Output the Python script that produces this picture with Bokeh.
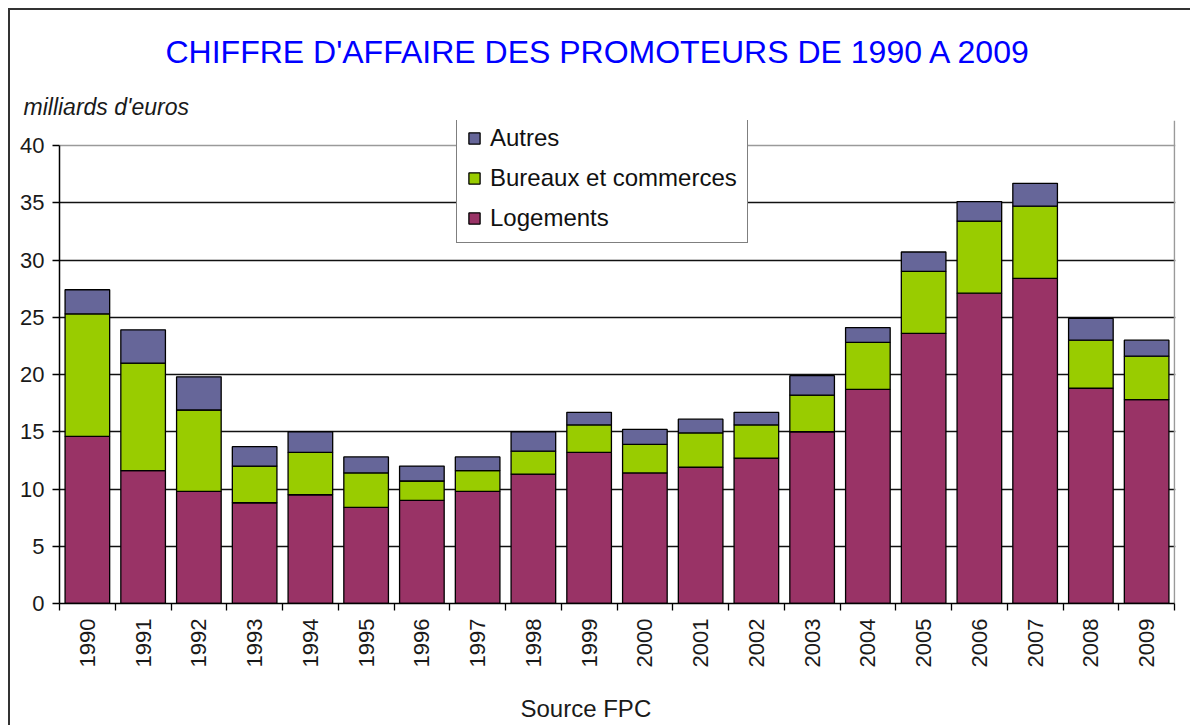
import math
from bokeh.plotting import figure
from bokeh.layouts import column
from bokeh.models import (ColumnDataSource, Range1d, FixedTicker, Legend, LegendItem, Label, Grid, Title)
from bokeh.embed import file_html
from bokeh.resources import INLINE

years = ["1990", "1991", "1992", "1993", "1994", "1995", "1996", "1997", "1998", "1999",
         "2000", "2001", "2002", "2003", "2004", "2005", "2006", "2007", "2008", "2009"]
logements = [14.6, 11.6, 9.8, 8.8, 9.5, 8.4, 9.0, 9.8, 11.3, 13.2,
             11.4, 11.9, 12.7, 15.0, 18.7, 23.6, 27.1, 28.4, 18.8, 17.8]
bureaux = [10.7, 9.4, 7.1, 3.2, 3.7, 3.0, 1.7, 1.8, 2.0, 2.4,
           2.5, 3.0, 2.9, 3.2, 4.1, 5.4, 6.3, 6.3, 4.2, 3.8]
autres = [2.1, 2.9, 2.9, 1.7, 1.8, 1.4, 1.3, 1.2, 1.7, 1.1,
          1.3, 1.2, 1.1, 1.7, 1.3, 1.7, 1.7, 2.0, 1.9, 1.4]
series = ["Logements", "Bureaux et commerces", "Autres"]
colors = ["#993366", "#99CC00", "#666699"]
y_ticks = [0, 5, 10, 15, 20, 25, 30, 35, 40]

title_text = "CHIFFRE D'AFFAIRE DES PROMOTEURS DE 1990 A 2009"
unit_text = "milliards d'euros"
source_text = "Source FPC"

n = len(years)
xpos = [i + 0.5 for i in range(n)]
src = ColumnDataSource(dict(x=xpos, logements=logements, bureaux=bureaux, autres=autres))

W = 1180
FONT = "Liberation Sans"
BL, BR = 49, 15          # left / right borders (frame spans page x 59..1175)

# --- main chart ---
y_top = 40 * (603 - 120) / (603 - 145)   # frame extends above 40 to host the legend
x_end = n * (1116 / 1115)

p = figure(width=W, height=680, output_backend="svg", toolbar_location=None, title=None,
           x_range=Range1d(0, x_end), y_range=Range1d(0, y_top),
           min_border_left=BL, min_border_right=BR, min_border_top=110, min_border_bottom=87)
p.background_fill_color = "white"
p.border_fill_color = "white"
p.outline_line_color = None

rs = p.vbar_stack(["logements", "bureaux", "autres"], x="x", width=0.8, color=colors,
                  line_color="black", line_width=1.3, source=src)

xa = p.xaxis[0]
xa.ticker = FixedTicker(ticks=xpos, minor_ticks=list(range(n + 1)))
xa.major_label_overrides = {x: y for x, y in zip(xpos, years)}
xa.major_label_orientation = math.pi / 2
xa.major_tick_out = 0
xa.major_tick_in = 0
xa.minor_tick_out = 7
xa.minor_tick_in = 0
xa.minor_tick_line_color = "black"
xa.minor_tick_line_width = 1.3
xa.axis_line_color = "black"
xa.axis_line_width = 1.5
xa.bounds = (0, n)
xa.major_label_standoff = 8
xa.major_label_text_font = FONT
xa.major_label_text_font_size = "22px"
xa.major_label_text_color = "#1a1a1a"

ya = p.yaxis[0]
ya.ticker = FixedTicker(ticks=y_ticks)
ya.bounds = (0, 40)
ya.major_tick_out = 7
ya.major_tick_in = 0
ya.minor_tick_out = 0
ya.minor_tick_in = 0
ya.major_tick_line_color = "black"
ya.major_tick_line_width = 1.3
ya.axis_line_color = "black"
ya.axis_line_width = 1.5
ya.major_label_standoff = 8
ya.major_label_text_font = FONT
ya.major_label_text_font_size = "22px"
ya.major_label_text_color = "#1a1a1a"

p.xgrid.visible = False
p.ygrid[0].ticker = FixedTicker(ticks=y_ticks[1:-1])
p.ygrid[0].grid_line_color = "#111111"
p.ygrid[0].grid_line_width = 1.3
p.ygrid[0].level = "underlay"

# gray plot-area border (top at 40, right edge)
p.add_layout(Grid(dimension=1, ticker=FixedTicker(ticks=[40]), grid_line_color="#9a9a9a",
                  grid_line_width=1.5, level="underlay"))
p.add_layout(Grid(dimension=0, ticker=FixedTicker(ticks=[n]), bounds=(0, 40),
                  grid_line_color="#9a9a9a", grid_line_width=1.5, level="underlay"))

items = [LegendItem(label=series[i], renderers=[rs[i]]) for i in (2, 1, 0)]
leg = Legend(items=items, location=(397, 360), orientation="vertical")
leg.border_line_color = "black"
leg.border_line_width = 1.2
leg.background_fill_color = "white"
leg.background_fill_alpha = 1
leg.label_text_font = FONT
leg.label_text_font_size = "24px"
leg.label_text_color = "#111111"
leg.glyph_width = 14
leg.glyph_height = 14
leg.label_standoff = 9
leg.padding = 10
leg.spacing = 12
leg.margin = 0
p.add_layout(leg, "center")

# titles above the frame (first added sits closest to the frame)
p.add_layout(Title(text=unit_text, align="left", offset=-36, standoff=1,
                   text_font=FONT, text_font_style="italic",
                   text_font_size="23px", text_color="#1a1a1a"), "above")
p.add_layout(Title(text=title_text, align="left", offset=106, standoff=43,
                   text_font=FONT, text_font_style="normal",
                   text_font_size="32px", text_color="#0000FF"), "above")

# --- bottom strip: source (frame aligned with the chart's frame, page-x coordinates) ---
bot = figure(width=W, height=35, output_backend="svg", toolbar_location=None,
             x_axis_type=None, y_axis_type=None,
             x_range=Range1d(59, 1175), y_range=Range1d(35, 0),
             min_border_left=BL, min_border_right=BR, min_border_top=0, min_border_bottom=0)
bot.outline_line_color = None
bot.background_fill_color = "white"
bot.border_fill_color = "white"
bot.xgrid.visible = False
bot.ygrid.visible = False
bot.add_layout(Label(x=520, y=18, text=source_text, text_align="left", text_baseline="middle",
                     text_font=FONT, text_font_size="24px", text_color="#1a1a1a"))

layout = column(p, bot, spacing=0)
layout.margin = (8, 0, 0, 8)
layout.styles = {"border-left": "2px solid #333", "border-top": "2px solid #333"}

open("out.html", "w").write(file_html(layout, INLINE))
